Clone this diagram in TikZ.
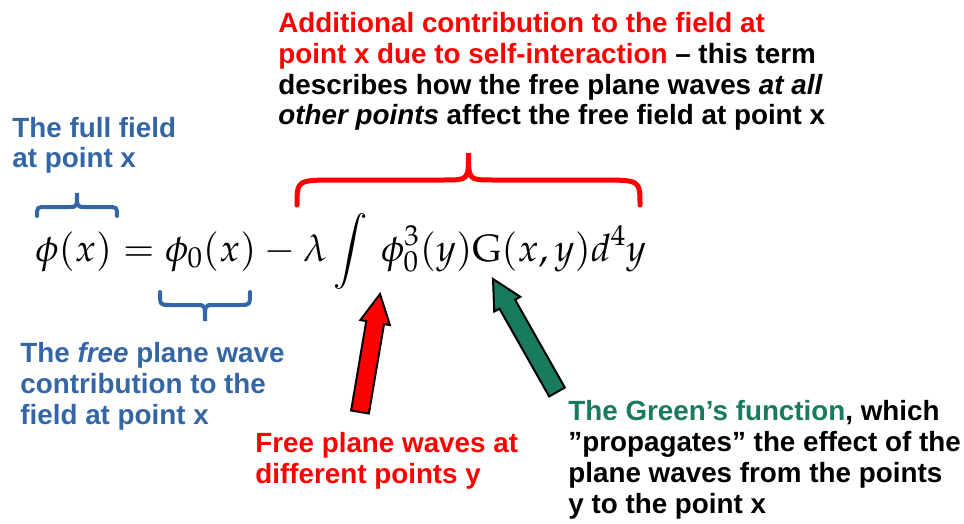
\documentclass[tikz,border=0pt]{standalone}
\usepackage{mathpazo}
\usepackage[no-math]{fontspec}
\newfontfamily\labelfont{Liberation Sans}
\usetikzlibrary{calc}

\definecolor{noteblue}{RGB}{52,101,164}
\definecolor{notegreen}{RGB}{24,122,94}
\definecolor{notered}{RGB}{255,0,0}

% brace: style, x1, x2, y of ends, y of flat part, y of tip, end radius, middle radius
\newcommand{\curlybrace}[8]{%
  \pgfmathsetmacro{\bracemid}{(#2+#3)/2}
  \draw[#1] (#2,#4) .. controls (#2,#5) .. (#2+#7,#5) -- (\bracemid-#8,#5)
    .. controls (\bracemid,#5) .. (\bracemid,#6)
    .. controls (\bracemid,#5) .. (\bracemid+#8,#5) -- (#3-#7,#5)
    .. controls (#3,#5) .. (#3,#4);
}

% block arrow: tail, tip, fill colour
\newcommand{\fatarrow}[3]{%
  \coordinate (headbase) at ($(#2)!14.5pt!(#1)$);
  \filldraw[fill=#3, draw=black, line width=1pt, line join=miter]
    ($(#1)!4.5pt!-90:(#2)$) -- ($(headbase)!4.5pt!-90:(#2)$)
    -- ($(headbase)!7.5pt!-90:(#2)$) -- (#2)
    -- ($(headbase)!7.5pt!90:(#2)$) -- ($(headbase)!4.5pt!90:(#2)$)
    -- ($(#1)!4.5pt!90:(#2)$) -- cycle;
}

\begin{document}
\begin{tikzpicture}[
    x=0.5pt, y=-0.5pt,
    note/.style={anchor=base west, inner sep=0pt, align=left,
      font=\labelfont\bfseries\fontsize{13.9}{15.4}\selectfont},
    bluebrace/.style={draw=noteblue, line width=2pt, line cap=round},
    redbrace/.style={draw=notered, line width=2.5pt, line cap=round}
  ]
  \useasboundingbox (0,0) rectangle (964,524);

  % Equation
  \node (eq) [anchor=base west, inner sep=0pt, font=\fontsize{19}{23}\selectfont] at (35,261)
    {$\phi(x) = \phi_0(x) - \lambda \displaystyle\int\, \phi_0^3(y)\mathrm{G}(x,y)d^4y$};

  % Notes (anchored on the baseline of their last line)
  \node (selfnote) [note] at (278,125) {\textcolor{notered}{Additional contribution to the field at}\\
    \textcolor{notered}{point x due to self-interaction} – this term\\
    describes how the free plane waves \textit{at all}\\
    \textit{other points} affect the free field at point x};
  \node (fullnote) [note, text=noteblue] at (12,168) {The full field\\at point x};
  \node (freenote) [note, text=noteblue] at (20,424) {The \textit{free} plane wave\\contribution to the\\field at point x};
  \node (wavenote) [note, text=notered] at (255,483) {Free plane waves at\\different points y};
  \node (greennote) [note] at (568,513) {\textcolor{notegreen}{The Green’s function}, which\\
    ”propagates” the effect of the\\
    plane waves from the points\\
    y to the point x};

  % Braces
  \curlybrace{bluebrace}{37}{117}{216}{207}{193}{10}{8}
  \curlybrace{bluebrace}{160}{250}{292}{305}{321}{10}{8}
  \curlybrace{redbrace}{297}{640}{205}{180}{153}{40}{24}

  % Arrows
  \coordinate (redtail) at (360,412);
  \coordinate (redtip) at (380,294);
  \coordinate (greentail) at (557,392);
  \coordinate (greentip) at (493,279);
  \fatarrow{redtail}{redtip}{notered}
  \fatarrow{greentail}{greentip}{notegreen}

\end{tikzpicture}
\end{document}
